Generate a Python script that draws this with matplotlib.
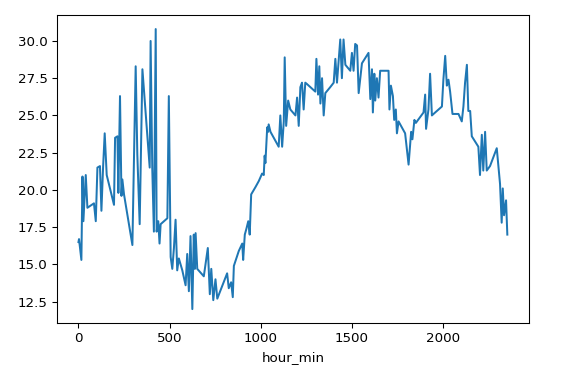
import matplotlib
matplotlib.use("Agg")
import matplotlib.pyplot as plt

hour_min = [0, 3, 16, 22, 27, 40, 49, 85, 95, 104, 118, 126, 135, 144, 155,
            195, 201, 214, 219, 228, 236, 241, 250, 296, 314, 323, 336, 351,
            391, 396, 405, 414, 424, 429, 438, 445, 451, 488, 496, 506, 515,
            524, 533, 542, 551, 570, 588, 597, 606, 615, 625, 633, 639, 643,
            652, 688, 710, 721, 729, 740, 752, 762, 816, 825, 838, 847, 853,
            880, 899, 904, 913, 922, 932, 940, 948, 972, 990, 1008, 1017, 1022,
            1026, 1030, 1036, 1041, 1044, 1054, 1099, 1108, 1118, 1127, 1132,
            1140, 1151, 1163, 1191, 1200, 1209, 1218, 1227, 1236, 1245, 1255,
            1300, 1306, 1315, 1322, 1328, 1337, 1346, 1355, 1382, 1401, 1410,
            1419, 1437, 1446, 1455, 1465, 1492, 1501, 1510, 1519, 1529, 1538,
            1556, 1592, 1602, 1611, 1616, 1624, 1629, 1638, 1647, 1656, 1702,
            1707, 1715, 1726, 1733, 1742, 1748, 1757, 1793, 1812, 1826, 1833,
            1844, 1852, 1894, 1903, 1908, 1921, 1930, 1940, 1958, 1995, 2003,
            2013, 2022, 2031, 2040, 2053, 2086, 2104, 2113, 2122, 2132, 2140,
            2150, 2159, 2195, 2204, 2214, 2222, 2232, 2241, 2259, 2296, 2314,
            2323, 2329, 2336, 2347, 2354]
temperature = [16.5, 16.7, 15.3, 20.9, 17.9, 21.0, 18.8, 19.1, 17.9, 21.5, 21.6,
               18.6, 21.5, 23.8, 21.0, 19.0, 23.5, 23.6, 19.8, 26.3, 19.6, 20.7,
               19.7, 16.3, 28.3, 22.4, 17.7, 28.1, 21.5, 30.0, 21.5, 17.2, 30.8,
               17.2, 17.9, 16.4, 17.7, 18.1, 26.3, 15.5, 14.7, 16.1, 18.0, 14.6,
               15.4, 14.6, 13.6, 15.7, 13.2, 16.9, 12.0, 17.0, 14.7, 17.1, 14.7,
               14.2, 16.1, 13.0, 14.7, 12.6, 14.0, 12.7, 14.4, 13.4, 13.8, 12.8,
               14.9, 15.9, 16.4, 15.3, 17.0, 17.4, 17.9, 17.0, 19.7, 20.2, 20.6,
               21.1, 21.0, 22.3, 21.8, 22.8, 24.2, 23.9, 24.4, 23.9, 22.9, 25.0,
               22.9, 24.6, 28.9, 24.3, 26.0, 25.4, 25.0, 26.2, 24.3, 26.9, 27.2,
               25.4, 27.2, 27.1, 26.6, 28.8, 26.4, 28.3, 25.8, 27.5, 25.0, 26.5,
               26.9, 27.2, 28.8, 27.2, 30.1, 27.5, 30.1, 28.4, 28.0, 29.2, 28.0,
               29.8, 29.7, 26.5, 28.5, 29.2, 26.1, 28.1, 25.2, 27.8, 26.0, 27.5,
               26.2, 28.0, 28.0, 25.4, 27.0, 26.3, 24.7, 25.4, 23.8, 24.6, 23.8,
               21.7, 23.9, 23.4, 24.7, 24.5, 25.2, 26.4, 24.1, 25.4, 27.8, 25.0,
               25.2, 25.6, 27.4, 29.0, 27.0, 27.4, 26.6, 25.1, 25.1, 24.6, 25.6,
               27.2, 28.4, 25.3, 25.3, 23.6, 22.9, 21.0, 23.7, 21.3, 23.9, 21.3,
               21.6, 22.8, 20.4, 17.8, 20.1, 18.3, 19.3, 17.0]

fig = plt.figure(figsize=(6, 386 / 96), dpi=96)
ax = fig.add_axes([0.099, 0.163, 0.819, 0.798])
ax.plot(hour_min, temperature, color="#1f77b4", linewidth=1.5)
ax.set_xlabel("hour_min")
fig.savefig("out.png", dpi=96)
